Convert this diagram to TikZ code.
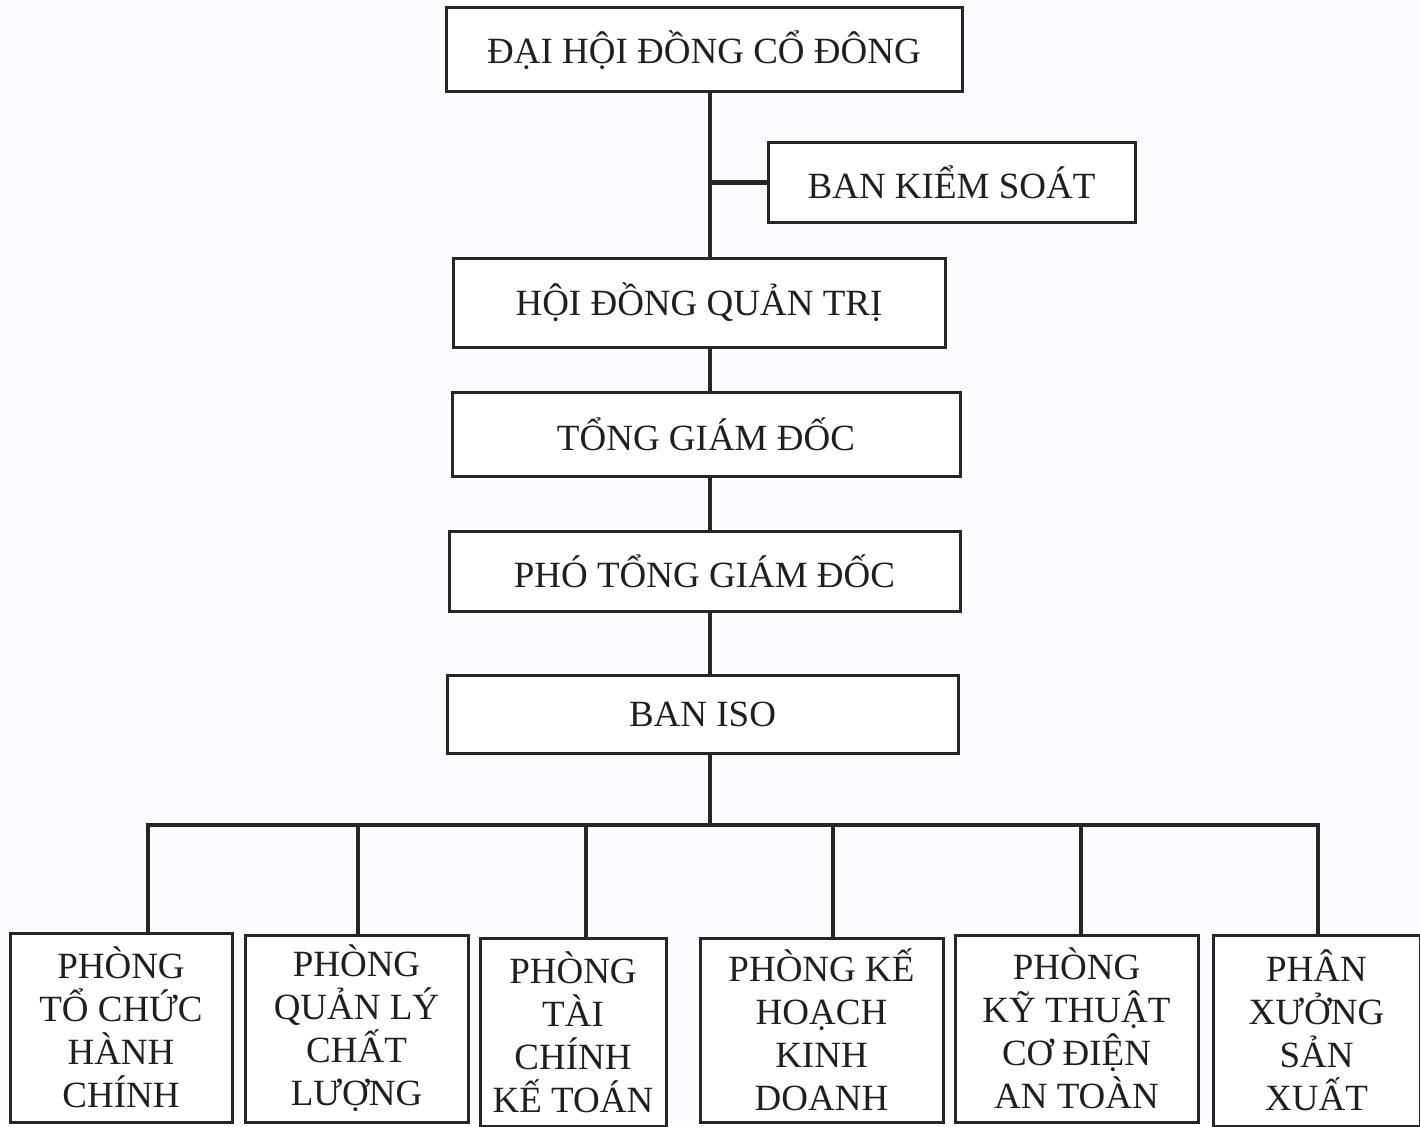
\documentclass[tikz,border=0pt]{standalone}
\usepackage{fontspec}
\setmainfont{Liberation Serif}
\begin{document}
\begin{tikzpicture}[x=1pt,y=-1pt,
  box/.style={draw=black!85, line width=3pt, fill=white, rectangle, inner sep=0pt, align=center,
    text=black!88, font=\fontsize{37}{43}\selectfont},
  conn/.style={draw=black!85, line width=4.5pt}]
\useasboundingbox (0,0) rectangle (1420,1126);
\fill[white!97!blue!40!white] (0,0) rectangle (1420,1126);
% upper boxes
\node[box, minimum width=516pt, minimum height=84pt] (dhcd) at (704,50) {ĐẠI HỘI ĐỒNG CỔ ĐÔNG};
\node[box, minimum width=367pt, minimum height=79pt] (bks) at (951.5,182.5) {BAN KIỂM SOÁT};
\node[box, minimum width=492pt, minimum height=89pt] (hdqt) at (699,302.5) {HỘI ĐỒNG QUẢN TRỊ};
\node[box, minimum width=508pt, minimum height=84pt] (tgd) at (706,434) {TỔNG GIÁM ĐỐC};
\node[box, minimum width=511pt, minimum height=80pt] (ptgd) at (704.5,571) {PHÓ TỔNG GIÁM ĐỐC};
\node[box, minimum width=511pt, minimum height=78pt] (iso) at (702.5,714) {BAN ISO};
% lower boxes
\node[box, minimum width=222pt, minimum height=189pt] (b1) at (121,1027.5) {PHÒNG\\TỔ CHỨC\\HÀNH\\CHÍNH};
\node[box, minimum width=223pt, minimum height=187pt] (b2) at (356.5,1028.5) {PHÒNG\\QUẢN LÝ\\CHẤT\\LƯỢNG};
\node[box, minimum width=186pt, minimum height=188pt] (b3) at (573,1032) {PHÒNG\\TÀI\\CHÍNH\\KẾ TOÁN};
\node[box, minimum width=243pt, minimum height=184pt] (b4) at (821.5,1030) {PHÒNG KẾ\\HOẠCH\\KINH\\DOANH};
\node[box, minimum width=243pt, minimum height=187pt] (b5) at (1076.5,1028.5) {PHÒNG\\KỸ THUẬT\\CƠ ĐIỆN\\AN TOÀN};
\node[box, minimum width=207pt, minimum height=191pt] (b6) at (1316.5,1030.5) {PHÂN\\XƯỞNG\\SẢN\\XUẤT};
% trunk
\coordinate (tx) at (710,0);
\coordinate (bus) at (710,825);
\coordinate (bl) at (148,825);
\coordinate (br) at (1318,825);
\draw[conn] (dhcd.south -| tx) -- (hdqt.north -| tx);
\draw[conn] (bks.west |- bks.center) -- (tx |- bks.center);
\draw[conn] (hdqt.south -| tx) -- (tgd.north -| tx);
\draw[conn] (tgd.south -| tx) -- (ptgd.north -| tx);
\draw[conn] (ptgd.south -| tx) -- (iso.north -| tx);
\draw[conn] (iso.south -| tx) -- (bus);
\draw[conn, line cap=rect] (bl) -- (br);
% drops
\coordinate (d1) at (148,825);
\coordinate (d2) at (358,825);
\coordinate (d3) at (586,825);
\coordinate (d4) at (833,825);
\coordinate (d5) at (1081,825);
\coordinate (d6) at (1318,825);
\draw[conn] (d1) -- (d1 |- b1.north);
\draw[conn] (d2) -- (d2 |- b2.north);
\draw[conn] (d3) -- (d3 |- b3.north);
\draw[conn] (d4) -- (d4 |- b4.north);
\draw[conn] (d5) -- (d5 |- b5.north);
\draw[conn] (d6) -- (d6 |- b6.north);
\end{tikzpicture}
\end{document}
